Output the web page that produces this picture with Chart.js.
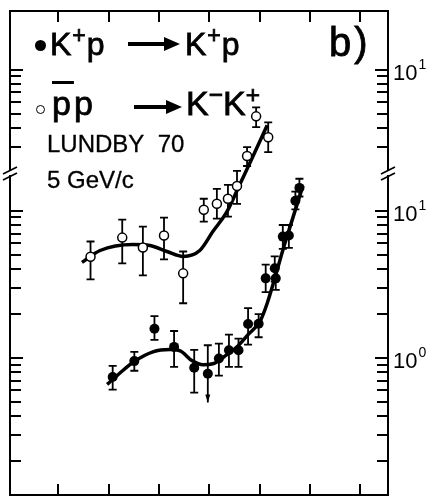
<!DOCTYPE html>
<html>
<head>
<meta charset="utf-8">
<script src="https://cdn.jsdelivr.net/npm/chart.js@4.4.1/dist/chart.umd.min.js"></script>
<style>
  body { margin: 0; background: #fff; }
  #wrap { position: relative; width: 434px; height: 501px; font-family: "Liberation Sans", Arial, sans-serif; color: #000; }
  canvas { position: absolute; left: 0; top: 0; }
  .t { position: absolute; white-space: nowrap; line-height: 1; }
  .big { -webkit-text-stroke: 0.8px #000; }
  .t sup { font-size: 0.72em; vertical-align: 0.5em; line-height: 0; }
  .dot { position: absolute; border-radius: 50%; box-sizing: border-box; }
  .arr { position: absolute; height: 4px; background: #000; }
  .arr::after { content: ""; position: absolute; right: -15px; top: -5px; border-left: 16px solid #000; border-top: 7px solid transparent; border-bottom: 7px solid transparent; }
</style>
</head>
<body>
<div id="wrap">
  <canvas id="chart" width="434" height="501"></canvas>

  <!-- legend / annotations -->
  <div class="dot" style="left:35px;top:40px;width:11px;height:11px;background:#000"></div>
  <div class="t big" style="left:50px;top:28px;font-size:32px;letter-spacing:1px">K<sup>+</sup>p</div>
  <div class="arr" style="left:128px;top:42px;width:37px"></div>
  <div class="t big" style="left:185px;top:28px;font-size:32px;letter-spacing:1px">K<sup>+</sup>p</div>
  <div class="t big" style="left:329px;top:22px;font-size:40px;letter-spacing:3px">b)</div>

  <div class="dot" style="left:36px;top:105px;width:9px;height:9px;border:1px solid #000;background:#fff"></div>
  <div class="t big" style="left:52px;top:86px;font-size:34px;letter-spacing:3px"><span style="text-decoration:overline;text-decoration-thickness:3px">p</span>p</div>
  <div class="arr" style="left:134px;top:105px;width:33px"></div>
  <div class="t big" style="left:186px;top:86px;font-size:34px">K<sup>&minus;</sup>K<sup>+</sup></div>

  <div class="t" style="left:47px;top:132px;font-size:24px;-webkit-text-stroke:0.3px #000">LUNDBY&nbsp; 70</div>
  <div class="t" style="left:47px;top:168px;font-size:24px;-webkit-text-stroke:0.3px #000">5 GeV/c</div>
</div>

<script>
// x axis: arbitrary units, ticks only (no labels in the original)
const xTicks = [1, 2, 3, 4, 5, 6, 7];

// lower log axis (K+p -> K+p) tick values and labelled decades
const fillTicks = [0.2, 0.3, 0.4, 0.5, 0.6, 0.7, 0.8, 0.9, 1, 2, 3, 4, 5, 6, 7, 8, 9, 10];
const fillLabels = [1, 10];
// upper (shifted) log axis (pbar p -> K-K+)
const openTicks = [3, 4, 5, 6, 7, 8, 9, 10];
const openLabels = [10];

// pbar p -> K- K+ (open circles), upper axis units
const openX  = [1.64, 2.27, 2.68, 3.10, 3.48, 3.89, 4.15, 4.37, 4.55, 4.75, 4.93, 5.17];
const openY  = [0.534, 0.721, 0.618, 0.744, 0.412, 1.115, 1.224, 1.324, 1.619, 2.583, 4.81, 3.47];
const openHi = [0.678, 0.955, 0.855, 0.985, 0.580, 1.324, 1.546, 1.645, 2.046, 2.972, 5.54, 4.38];
const openLo = [0.375, 0.481, 0.399, 0.512, 0.258, 0.925, 0.969, 1.000, 1.224, 2.212, 4.06, 2.75];
// hand drawn fit through the open points
const openCurveX = [1.47, 1.83, 2.48, 2.82, 3.16, 3.48, 3.81, 4.07, 4.35, 4.61, 4.87, 5.15];
const openCurveY = [0.489, 0.589, 0.647, 0.637, 0.580, 0.537, 0.589, 0.792, 1.081, 1.671, 2.583, 4.19];

// K+ p -> K+ p (filled circles), lower axis units
const fillX  = [2.08, 2.51, 2.91, 3.30, 3.70, 3.97, 4.19, 4.39, 4.58, 4.77, 4.98, 5.12, 5.30, 5.32, 5.46, 5.58, 5.71, 5.79];
const fillY  = [0.741, 0.950, 1.577, 1.187, 0.856, 0.780, 0.989, 1.127, 1.127, 1.697, 1.705, 3.47, 4.06, 3.47, 6.67, 6.78, 11.7, 14.3];
const fillHi = [0.883, 1.098, 1.922, 1.522, 1.133, 1.218, 1.249, 1.437, 1.350, 2.177, 1.983, 4.3, 4.9, 4.2, 8.0, 8.0, 13.5, 16.5];
const fillLo = [0.608, 0.817, 1.323, 0.869, 0.580, 0.497, 0.756, 0.869, 0.869, 1.230, 1.380, 2.8, 3.3, 2.9, 5.5, 5.6, 10.2, 12.5];
const fillLimit = [false, false, false, false, false, true, false, false, false, false, false, false, false, false, false, false, false, false];
// hand drawn fit through the filled points
const fillCurveX = [1.97, 2.23, 2.50, 2.88, 3.22, 3.42, 3.66, 3.88, 4.07, 4.35, 4.57, 4.77, 5.01, 5.15, 5.50, 5.86];
const fillCurveY = [0.660, 0.792, 0.940, 1.098, 1.138, 1.115, 0.954, 0.897, 0.911, 1.052, 1.205, 1.437, 1.778, 2.35, 5.98, 14.8];

const toXY = (xs, ys) => xs.map((x, i) => ({ x: x, y: ys[i] }));

const BREAK_Y = 173; // pixel row of the // marks

// draws error bars (under the markers)
const errorBars = {
  id: "errorBars",
  beforeDatasetsDraw(chart) {
    const ctx = chart.ctx;
    ctx.save();
    ctx.strokeStyle = "#000";
    ctx.fillStyle = "#000";
    ctx.lineWidth = 1.8;
    chart.data.datasets.forEach((ds) => {
      if (!ds.errHi) return;
      const xs = chart.scales.x;
      const ys = chart.scales[ds.yAxisID];
      ds.data.forEach((p, i) => {
        const px = xs.getPixelForValue(p.x);
        const top = ys.getPixelForValue(ds.errHi[i]);
        const bot = ys.getPixelForValue(ds.errLo[i]);
        ctx.beginPath();
        ctx.moveTo(px, top);
        ctx.lineTo(px, bot);
        ctx.moveTo(px - 4, top);
        ctx.lineTo(px + 4, top);
        if (!ds.limit || !ds.limit[i]) {
          ctx.moveTo(px - 4, bot);
          ctx.lineTo(px + 4, bot);
        }
        ctx.stroke();
        if (ds.limit && ds.limit[i]) {
          ctx.beginPath();
          ctx.moveTo(px - 2.5, bot - 8);
          ctx.lineTo(px + 2.5, bot - 8);
          ctx.lineTo(px, bot);
          ctx.closePath();
          ctx.fill();
        }
      });
    });
    ctx.restore();
  }
};

// frame, inward ticks, axis breaks and decade labels
const frameAxes = {
  id: "frameAxes",
  afterDraw(chart) {
    const ctx = chart.ctx;
    const a = chart.chartArea;
    const xs = chart.scales.x;
    const yF = chart.scales.yFill;
    const yO = chart.scales.yOpen;
    ctx.save();
    ctx.strokeStyle = "#000";
    ctx.fillStyle = "#000";
    ctx.lineWidth = 2;
    ctx.strokeRect(a.left, a.top, a.right - a.left, a.bottom - a.top);

    ctx.beginPath();
    xTicks.forEach((v) => {
      const px = Math.round(xs.getPixelForValue(v));
      ctx.moveTo(px, a.top);
      ctx.lineTo(px, a.top + 11);
      ctx.moveTo(px, a.bottom);
      ctx.lineTo(px, a.bottom - 11);
    });
    const yTick = (scale, v, lo, hi) => {
      const py = Math.round(scale.getPixelForValue(v));
      if (py < lo || py > hi) return;
      const len = fillLabels.includes(v) || openLabels.includes(v) ? 13 : 11;
      ctx.moveTo(a.left, py);
      ctx.lineTo(a.left + len, py);
      ctx.moveTo(a.right, py);
      ctx.lineTo(a.right - len, py);
    };
    fillTicks.forEach((v) => yTick(yF, v, BREAK_Y + 4, a.bottom - 1));
    openTicks.forEach((v) => yTick(yO, v, a.top + 1, BREAK_Y - 4));
    ctx.stroke();

    // axis break marks
    ctx.fillStyle = "#fff";
    [a.left, a.right].forEach((bx) => {
      ctx.fillRect(bx - 2, BREAK_Y - 2, 4, 4);
    });
    ctx.lineWidth = 1.8;
    ctx.beginPath();
    [a.left, a.right].forEach((bx) => {
      ctx.moveTo(bx - 7, BREAK_Y + 1);
      ctx.lineTo(bx + 7, BREAK_Y - 6);
      ctx.moveTo(bx - 7, BREAK_Y + 7);
      ctx.lineTo(bx + 7, BREAK_Y);
    });
    ctx.stroke();

    // decade labels on the right
    ctx.fillStyle = "#000";
    ctx.textBaseline = "alphabetic";
    const label = (scale, v) => {
      const py = scale.getPixelForValue(v);
      const exp = String(Math.round(Math.log10(v)));
      ctx.font = '22px "Liberation Sans", Arial, sans-serif';
      ctx.fillText("10", a.right + 5, py + 10);
      const w = ctx.measureText("10").width;
      ctx.font = '14px "Liberation Sans", Arial, sans-serif';
      ctx.fillText(exp, a.right + 6 + w, py - 1);
    };
    openLabels.forEach((v) => label(yO, v));
    fillLabels.forEach((v) => label(yF, v));
    ctx.restore();
  }
};

new Chart(document.getElementById("chart"), {
  type: "scatter",
  data: {
    datasets: [
      {
        label: "K+p -> K+p",
        data: toXY(fillX, fillY),
        yAxisID: "yFill",
        errHi: fillHi,
        errLo: fillLo,
        limit: fillLimit,
        pointRadius: 5,
        pointBackgroundColor: "#000",
        pointBorderColor: "#000",
        pointBorderWidth: 0,
        order: 0
      },
      {
        label: "pbar p -> K-K+",
        data: toXY(openX, openY),
        yAxisID: "yOpen",
        errHi: openHi,
        errLo: openLo,
        pointRadius: 4.5,
        pointBackgroundColor: "#fff",
        pointBorderColor: "#000",
        pointBorderWidth: 1.5,
        order: 0
      },
      {
        label: "fit K+p",
        type: "line",
        data: toXY(fillCurveX, fillCurveY),
        yAxisID: "yFill",
        showLine: true,
        borderColor: "#000",
        borderWidth: 3.5,
        pointRadius: 0,
        cubicInterpolationMode: "monotone",
        fill: false,
        order: 1
      },
      {
        label: "fit pbar p",
        type: "line",
        data: toXY(openCurveX, openCurveY),
        yAxisID: "yOpen",
        showLine: true,
        borderColor: "#000",
        borderWidth: 3.5,
        pointRadius: 0,
        cubicInterpolationMode: "monotone",
        fill: false,
        order: 1
      }
    ]
  },
  options: {
    responsive: false,
    animation: false,
    devicePixelRatio: 1,
    layout: { padding: { left: 10, top: 11, right: 46, bottom: 3 } },
    plugins: { legend: { display: false }, tooltip: { enabled: false } },
    scales: {
      x: { type: "linear", min: 0.04, max: 7.55, display: false },
      yFill: { type: "logarithmic", min: 0.1168, max: 228, bounds: "data", display: false },
      yOpen: { type: "logarithmic", min: 0.01282, max: 25.03, bounds: "data", display: false }
    }
  },
  plugins: [errorBars, frameAxes]
});
</script>
</body>
</html>
